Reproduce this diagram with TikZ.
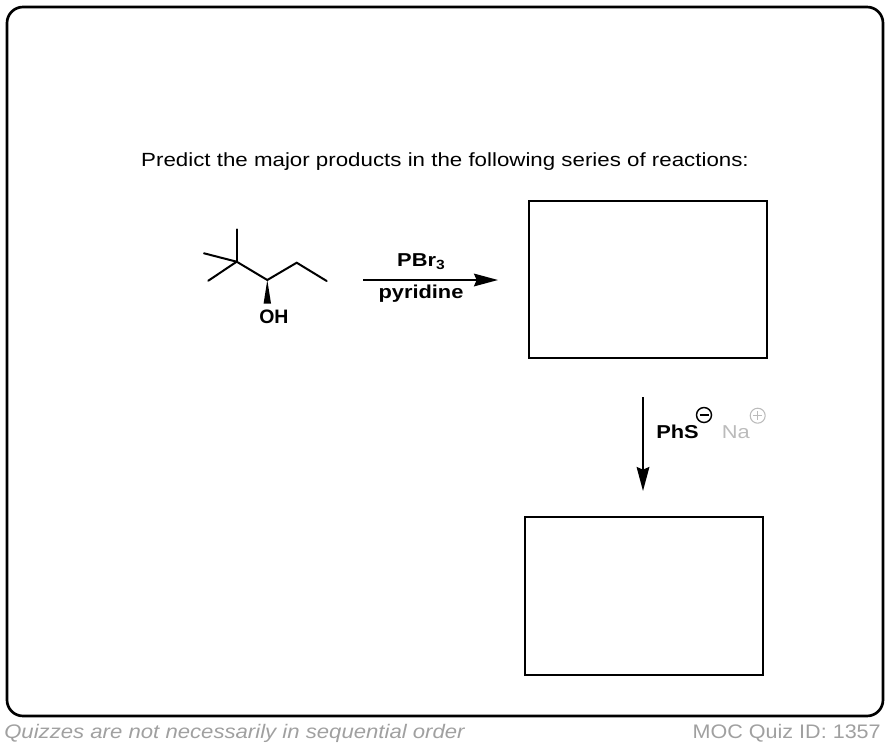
\documentclass[tikz,border=0pt]{standalone}
\usepackage{fontspec}
\setmainfont{Liberation Sans}
\newfontfamily\widefont{Liberation Sans}[FakeStretch=1.17]
\newfontfamily\footfont{Liberation Sans}[FakeStretch=1.1]
\newfontfamily\notefont{Liberation Sans}[FakeStretch=1.13]
\usepackage{tikz}
\usetikzlibrary{arrows.meta,positioning,calc}

\definecolor{footgray}{HTML}{A0A0A0}
\definecolor{nagray}{HTML}{BBBBBB}

\begin{document}
\begin{tikzpicture}[x=0.75pt,y=-0.75pt,
    bond/.style={line width=1.5pt,line cap=round},
    answerbox/.style={draw,line width=1.5pt},
    rxnarrow/.style={line width=1.5pt,-{Stealth[length=18pt,width=9.5pt,inset=2pt]}},
    reagent/.style={font=\widefont\bfseries\fontsize{14}{16}\selectfont},
    footer/.style={text=footgray,font=\footfont\fontsize{14.7}{16}\selectfont}]
    \useasboundingbox (0,0) rectangle (890,750);
    \draw[line width=2pt,rounded corners=12pt] (7,7) rectangle (883,716);

    \node[font=\widefont\fontsize{14.3}{16}\selectfont] (question) at (445,162) {Predict the major products in the following series of reactions:};

    % alcohol
    \coordinate (Cq) at (236.7,261.7);
    \coordinate (Me1) at (236.7,229.3);
    \coordinate (Me2) at (204,253.3);
    \coordinate (Me3) at (208.3,280.7);
    \coordinate (Coh) at (267.3,280);
    \coordinate (Cm) at (296.7,262.7);
    \coordinate (Ce) at (326.7,281);
    \coordinate (Wb) at (267.3,303.5);
    \node[anchor=base west,inner sep=0pt,font=\bfseries\fontsize{14.6}{16}\selectfont] (OH) at (259,323.3) {OH};
    \draw[bond] (Me1) -- (Cq);
    \draw[bond] (Me2) -- (Cq);
    \draw[bond] (Me3) -- (Cq);
    \draw[bond] (Cq) -- (Coh) -- (Cm) -- (Ce);
    \fill (Coh) -- ($(Wb)+(-3.7,0)$) -- ($(Wb)+(3.7,0)$) -- cycle;

    % step 1
    \node[answerbox,minimum width=178.5pt,minimum height=117.75pt] (box1) at (648,279.5) {};
    \coordinate (a1start) at (363,280);
    \coordinate (a1end) at (498,280);
    \draw[rxnarrow] (a1start) -- (a1end);
    \node[reagent] (pbr) at (421,262) {PBr\raisebox{-0.3ex}{\fontsize{10}{10}\selectfont 3}};
    \node[reagent] (pyr) at (421,294) {pyridine};

    % step 2
    \node[answerbox,minimum width=178.5pt,minimum height=118.5pt] (box2) at (644,596) {};
    \coordinate (a2start) at (643,397);
    \coordinate (a2end) at (643,491);
    \draw[rxnarrow] (a2start) -- (a2end);
    \node[reagent,anchor=base west,inner sep=0pt] (phs) at (656,438) {PhS};
    \node[circle,draw,line width=1.1pt,inner sep=0pt,minimum size=11.25pt] (minus) at (704,415) {};
    \draw[line width=1.4pt] ($(minus.center)+(-4.5,0)$) -- ($(minus.center)+(4.5,0)$);
    \node[anchor=base west,inner sep=0pt,text=nagray,font=\widefont\fontsize{14}{16}\selectfont] (na) at (721.5,438) {Na};
    \node[circle,draw=nagray,line width=0.8pt,inner sep=0pt,minimum size=11.25pt] (plus) at (757.7,415.7) {};
    \draw[nagray,line width=0.8pt] ($(plus.center)+(-4.5,0)$) -- ($(plus.center)+(4.5,0)$);
    \draw[nagray,line width=0.8pt] ($(plus.center)+(0,-4.5)$) -- ($(plus.center)+(0,4.5)$);

    % footer
    \node[footer,anchor=west,inner sep=0pt,font=\notefont\itshape\fontsize{14.7}{16}\selectfont] (note) at (4,733) {Quizzes are not necessarily in sequential order};
    \node[footer,anchor=east,inner sep=0pt] (quizid) at (881,733) {MOC Quiz ID: 1357};
\end{tikzpicture}
\end{document}
